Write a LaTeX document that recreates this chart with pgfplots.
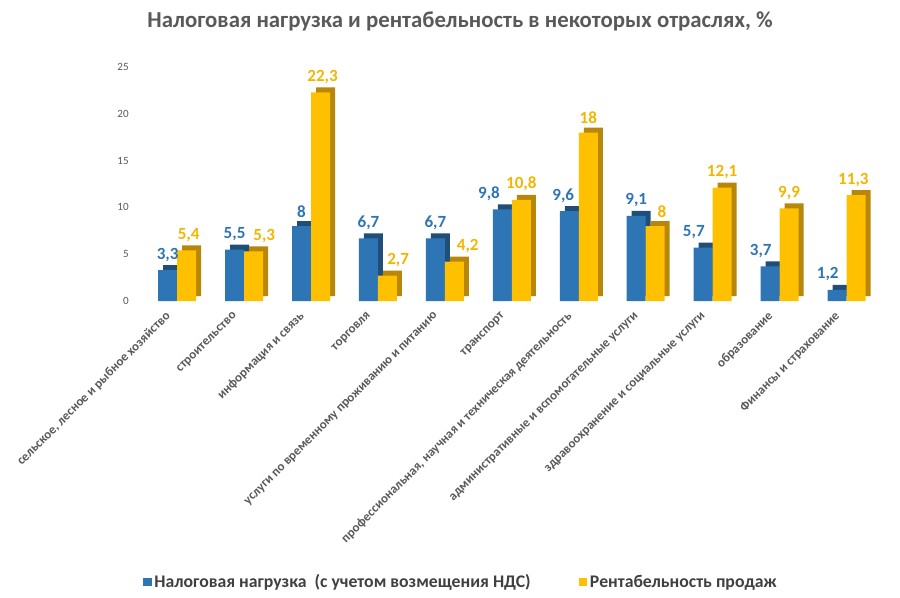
\documentclass[border=0pt]{standalone}
\usepackage{pgfplots}
\usepackage{pgfplotstable}
\pgfplotsset{compat=1.18}
\usepackage{fontspec}
\setmainfont{Carlito}
\definecolor{cblue}{HTML}{2E75B6}
\definecolor{cbluedark}{HTML}{1F4E79}
\definecolor{cyel}{HTML}{FFC000}
\definecolor{cyeldark}{HTML}{B8860B}
\definecolor{cyeltext}{HTML}{F2B600}
\definecolor{cgray}{HTML}{595959}
\definecolor{cdark}{HTML}{404040}
\pgfplotstableread{
x  b    db    y     dy
0  3.3  0     5.4   1.5
1  5.5  0     5.3   8
2  8    0     22.3  1.5
3  6.7  0     2.7   8
4  6.7  0     4.2   10
5  9.8  -10   10.8  0
6  9.6  -4.5  18    0
7  9.1  0     8     5
8  5.7  -7    12.1  0
9  3.7  -7    9.9   0
10 1.2  -7    11.3  -2
}\datatable
\begin{document}
\begin{tikzpicture}
\useasboundingbox (0,0) rectangle (675pt,447.75pt);
\node[font=\bfseries\fontsize{17.1}{20}\selectfont, text=cgray] at (345pt,432pt) {Налоговая нагрузка и рентабельность в некоторых отраслях, \%};
\begin{axis}[
  at={(105pt,222pt)}, anchor=south west,
  scale only axis, width=555pt, height=175.5pt,
  ybar, clip=false,
  xmin=-0.555, xmax=10.5, ymin=0, ymax=25,
  ytick={0,5,...,25},
  xtick={0,...,10},
  xticklabels={{сельское, лесное и рыбное хозяйство},{строительство},{информация и связь},{торговля},{услуги по временному проживанию и питанию},{транспорт},{профессиональная, научная и техническая деятельность},{административные и вспомогательные услуги},{здравоохранение и социальные услуги},{образование},{Финансы и страхование}},
  xticklabel style={xshift=-6.5pt, yshift=-10pt, rotate=45, anchor=east, inner sep=0pt, font=\bfseries\fontsize{9.7}{11}\selectfont, text=cgray},
  yticklabel style={font=\fontsize{8.3}{10}\selectfont, text=cgray, xshift=-5pt},
  /pgf/number format/assume math mode=true,
  axis line style={draw=none},
  major tick length=0pt,
  bar width=14.25pt,
  every node near coord/.append style={font=\bfseries\fontsize{12.8}{15}\selectfont, anchor=south, yshift=3pt},
  /pgf/number format/use comma,
  legend columns=2,
  legend style={at={(0.434,-1.201)}, anchor=center, draw=none, font=\bfseries\fontsize{13.3}{15}\selectfont, text=cdark, /tikz/every even column/.append style={column sep=34pt}},
]
\addplot[fill=cbluedark, draw=none, bar shift=-3.375pt, yshift=3.75pt, forget plot] table[x=x, y=b] {\datatable};
\addplot[fill=cblue, draw=none, bar shift=-7.125pt,
  nodes near coords, visualization depends on={\thisrow{db}\as\dx},
  every node near coord/.append style={text=cblue, xshift=\dx pt},
  legend image code/.code={\fill[cblue] (0pt,-3.2pt) rectangle (6.5pt,3.3pt);}] table[x=x, y=b] {\datatable};
\addlegendentry{Налоговая нагрузка\ \ (с учетом возмещения НДС)}
\addplot[fill=cyeldark, draw=none, bar shift=10.875pt, yshift=3.75pt, forget plot] table[x=x, y=y] {\datatable};
\addplot[fill=cyel, draw=none, bar shift=7.125pt,
  nodes near coords, visualization depends on={\thisrow{dy}\as\dx},
  every node near coord/.append style={text=cyeltext, xshift=\dx pt},
  legend image code/.code={\fill[cyel] (0pt,-3.2pt) rectangle (6.5pt,3.3pt);}] table[x=x, y=y] {\datatable};
\addlegendentry{Рентабельность продаж}
\end{axis}
\end{tikzpicture}
\end{document}
